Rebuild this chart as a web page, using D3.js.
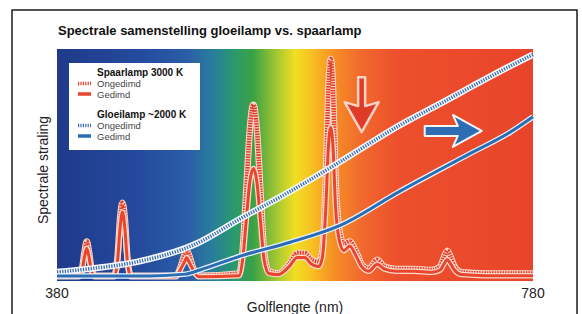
<!DOCTYPE html>
<html>
<head>
<meta charset="utf-8">
<script src="https://cdn.jsdelivr.net/npm/d3@7"></script>
<style>
  html, body { margin: 0; padding: 0; background: #ffffff; }
  svg { display: block; font-family: "Liberation Sans", Arial, sans-serif; }
</style>
</head>
<body>
<div id="chart"></div>
<script>
// wavelengths (nm) sampled for the spaarlamp (CFL) curves
var cflLambda = [380, 398, 401, 403, 405, 407, 409, 412, 428, 431, 433, 435, 437, 439, 442,
  480, 484, 487, 489, 491, 494, 499, 533, 536, 539, 542, 545, 548, 551, 554, 558,
  566, 575, 582, 588, 594, 600, 603, 606, 608, 610, 612, 614, 617,
  621, 626, 631, 636, 642, 649, 655, 665, 680, 695, 702, 705, 708, 711, 714, 720, 740, 760, 780];
var cflOngedimd = [1, 1, 4, 11, 16, 11, 4, 1, 1, 10, 26, 33, 26, 10, 1,
  1, 5, 10, 12, 10, 5, 1, 2, 12, 38, 65, 76, 65, 38, 12, 3,
  2, 6, 11, 11, 8, 7, 12, 45, 82, 96, 82, 45, 22,
  15, 16, 12, 6, 4, 8, 5, 4, 4, 3.5, 5, 9, 12, 9, 5, 2.5, 2, 2, 2];
var cflGedimd = [0.5, 0.5, 3, 9, 13, 9, 3, 0.5, 0.5, 8, 22, 29, 22, 8, 0.5,
  0.5, 4, 7, 9, 7, 4, 0.5, 1, 8, 25, 42, 48, 42, 25, 8, 2,
  1.5, 5, 9, 9, 6, 5, 9, 32, 57, 66, 57, 32, 17,
  12, 14, 10, 5, 3, 6, 4, 3, 3, 2.5, 3.5, 6, 8, 6, 3.5, 1.5, 1, 1, 1];

// gloeilamp (incandescent) curves
var gloeiLambdaOn = [380, 405, 450, 496, 534, 576, 618, 668, 704, 725, 761, 780];
var gloeiOngedimd = [2.6, 3.9, 7.4, 14.8, 26, 38, 51, 67, 77, 83, 93, 98];
var gloeiLambdaDim = [380, 458, 488, 500, 534, 576, 618, 668, 725, 761, 780];
var gloeiGedimd = [0.9, 0.9, 1.7, 3.5, 9.6, 15.7, 23.1, 38, 54, 64, 70.7];

// spectrum colours by wavelength
var spectrumNm = [380, 450, 490, 510, 528, 545, 565, 580, 595, 612, 635, 665, 780];
var spectrumColor = ['#1f3a8a', '#254a9e', '#2a5ea6', '#287c9c', '#2a9870', '#3ba244', '#a6c832',
  '#f0df22', '#f8bf22', '#f59024', '#f26a2e', '#ed502c', '#e8442a'];

var xTicks = [380, 780];

var width = 582, height = 314;
var plot = {left: 57, right: 533, top: 49, bottom: 281};

var svg = d3.select('#chart').append('svg')
  .attr('width', width)
  .attr('height', height);

var x = d3.scaleLinear().domain([380, 780]).range([plot.left, plot.right]);
var y = d3.scaleLinear().domain([0, 100]).range([278, 50]);

// outer frame
svg.append('rect')
  .attr('x', 12).attr('y', 10)
  .attr('width', 565).attr('height', 320)
  .attr('fill', 'none')
  .attr('stroke', '#1a1a1a')
  .attr('stroke-width', 1.5);

svg.append('text')
  .attr('x', 58).attr('y', 35)
  .attr('font-size', 13).attr('font-weight', 'bold')
  .attr('fill', '#111')
  .text('Spectrale samenstelling gloeilamp vs. spaarlamp');

// spectrum background
var grad = svg.append('defs').append('linearGradient')
  .attr('id', 'spectrum')
  .attr('gradientUnits', 'userSpaceOnUse')
  .attr('x1', x(380)).attr('x2', x(780))
  .attr('y1', 0).attr('y2', 0);
grad.selectAll('stop').data(spectrumNm)
  .enter().append('stop')
  .attr('offset', function(d){ return (x(d) - x(380)) / (x(780) - x(380)); })
  .attr('stop-color', function(d, i){ return spectrumColor[i]; });

svg.append('rect')
  .attr('x', plot.left).attr('y', plot.top)
  .attr('width', plot.right - plot.left)
  .attr('height', plot.bottom - plot.top)
  .attr('fill', 'url(#spectrum)');

var zip = function(ls, vs){
  return ls.map(function(l, i){ return {l: l, v: vs[i]}; });
};

var line = d3.line()
  .x(function(d){ return x(d.l); })
  .y(function(d){ return y(d.v); })
  .curve(d3.curveMonotoneX);

var g = svg.append('g');

// dotted "ongedimd" style: light band with coloured dashes across it
var drawDotted = function(data, band, dash, dashWidth, pattern){
  g.append('path').attr('d', line(data))
    .attr('fill', 'none').attr('stroke', band).attr('stroke-width', 6.5)
    .attr('stroke-linejoin', 'round');
  g.append('path').attr('d', line(data))
    .attr('fill', 'none').attr('stroke', dash).attr('stroke-width', dashWidth)
    .attr('stroke-dasharray', pattern);
};
// solid "gedimd" style: coloured line with light halo
var drawSolid = function(data, halo, color){
  g.append('path').attr('d', line(data))
    .attr('fill', 'none').attr('stroke', halo).attr('stroke-width', 5.5)
    .attr('stroke-linejoin', 'round');
  g.append('path').attr('d', line(data))
    .attr('fill', 'none').attr('stroke', color).attr('stroke-width', 3)
    .attr('stroke-linejoin', 'round');
};

drawDotted(zip(cflLambda, cflOngedimd), '#fbd6cb', '#e23f2a', 4.5, '1.6,1');
drawSolid(zip(cflLambda, cflGedimd), '#fcd9cc', '#e8452c');
drawDotted(zip(gloeiLambdaOn, gloeiOngedimd), '#f4f8fc', '#3d6fae', 3.5, '1.3,1.3');
drawSolid(zip(gloeiLambdaDim, gloeiGedimd), '#e6f2fb', '#2b6cb3');

// arrows
var downArrow = {l: 636, top: 88, tip: 64};
var rightArrow = {from: 689, to: 737, v: 64.5};

var dx = x(downArrow.l), dTop = y(downArrow.top), dTip = y(downArrow.tip);
svg.append('path')
  .attr('d', d3.line()([
    [dx - 3.5, dTop], [dx + 3.5, dTop], [dx + 3.5, dTip - 26], [dx + 17, dTip - 30],
    [dx, dTip], [dx - 17, dTip - 30], [dx - 3.5, dTip - 26]
  ]) + 'Z')
  .attr('fill', '#de3b28').attr('stroke', '#fcd2c2').attr('stroke-width', 2.5)
  .attr('stroke-linejoin', 'round');

var rx0 = x(rightArrow.from), rx1 = x(rightArrow.to), ry = y(rightArrow.v);
svg.append('path')
  .attr('d', d3.line()([
    [rx0, ry - 5], [rx1 - 24, ry - 5], [rx1 - 29, ry - 16], [rx1, ry],
    [rx1 - 29, ry + 16], [rx1 - 24, ry + 5], [rx0, ry + 5]
  ]) + 'Z')
  .attr('fill', '#2d6db3').attr('stroke', '#f6f6f6').attr('stroke-width', 2)
  .attr('stroke-linejoin', 'round');

// legend
var legend = svg.append('g');
legend.append('rect')
  .attr('x', 69).attr('y', 63).attr('width', 131).attr('height', 87)
  .attr('fill', '#ffffff');

var legendRows = [
  {y: 76, text: 'Spaarlamp 3000 K', bold: true},
  {y: 87, text: 'Ongedimd', sym: 'dotted', color: '#e5432b'},
  {y: 97.5, text: 'Gedimd', sym: 'solid', color: '#e8452c'},
  {y: 118, text: 'Gloeilamp ~2000 K', bold: true},
  {y: 129, text: 'Ongedimd', sym: 'dotted', color: '#3d6fae'},
  {y: 139.5, text: 'Gedimd', sym: 'solid', color: '#2b6cb3'}
];

legendRows.forEach(function(r){
  legend.append('text')
    .attr('x', 97).attr('y', r.y)
    .attr('font-size', r.bold ? 10 : 9.5)
    .attr('font-weight', r.bold ? 'bold' : 'normal')
    .attr('fill', r.bold ? '#111' : '#444')
    .text(r.text);
  if(r.sym === 'dotted'){
    legend.append('line')
      .attr('x1', 78).attr('x2', 91).attr('y1', r.y - 3.5).attr('y2', r.y - 3.5)
      .attr('stroke', r.color).attr('stroke-width', 3.5)
      .attr('stroke-dasharray', '1.2,1.2');
  } else if(r.sym === 'solid'){
    legend.append('line')
      .attr('x1', 78).attr('x2', 91).attr('y1', r.y - 3.5).attr('y2', r.y - 3.5)
      .attr('stroke', r.color).attr('stroke-width', 3.5);
  }
});

// axis labels
svg.selectAll('.xtick').data(xTicks)
  .enter().append('text')
  .attr('class', 'xtick')
  .attr('x', function(d){ return x(d); })
  .attr('y', 298)
  .attr('text-anchor', 'middle')
  .attr('font-size', 14)
  .attr('fill', '#222')
  .text(function(d){ return d; });

svg.append('text')
  .attr('x', (plot.left + plot.right) / 2).attr('y', 312)
  .attr('text-anchor', 'middle')
  .attr('font-size', 14)
  .attr('fill', '#222')
  .text('Golflengte (nm)');

svg.append('text')
  .attr('transform', 'translate(48,170) rotate(-90)')
  .attr('text-anchor', 'middle')
  .attr('font-size', 14)
  .attr('fill', '#222')
  .text('Spectrale straling');
</script>
</body>
</html>
